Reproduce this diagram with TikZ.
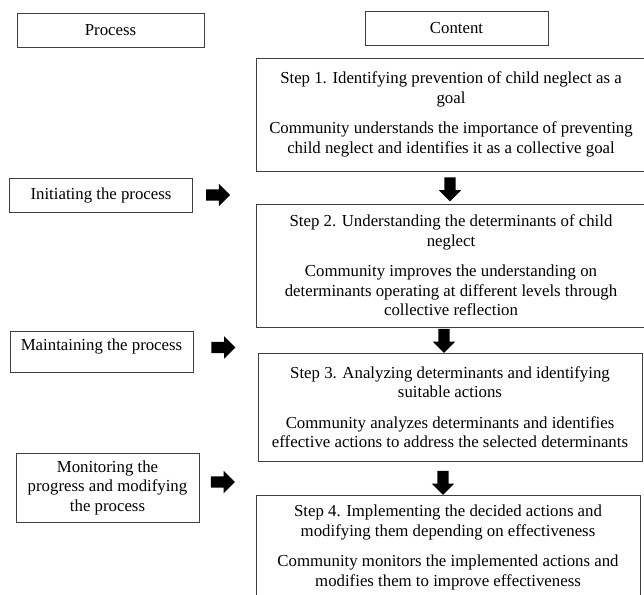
\documentclass[tikz,border=0pt]{standalone}
\usepackage{fontspec}
\setmainfont{Liberation Serif}
\usetikzlibrary{shapes.arrows,positioning}
\tikzstyle{headbox} = [rectangle, minimum height=34pt, inner sep=0pt, text centered, draw=black!75, line width=0.8pt]
\tikzstyle{phasebox} = [rectangle, minimum width=183pt, inner sep=0pt, align=center, draw=black!75, line width=0.8pt]
\tikzstyle{stepbox} = [rectangle, inner sep=0pt, align=center, draw=black!75, line width=0.8pt]
\tikzstyle{rightarrow} = [single arrow, fill=black, draw=none, inner sep=5.5pt, minimum height=24pt, single arrow head extend=5.5pt]
\tikzstyle{downarrow} = [rightarrow, rotate=-90]

\begin{document}
\begin{tikzpicture}[x=1pt,y=-1pt,font=\fontsize{16.8}{19.5}\selectfont]
    \useasboundingbox (0,0) rectangle (644,594);
    % column heads
    \node (Process) [headbox, minimum width=187pt] at (110.5,30) {Process};
    \node (Content) [headbox, minimum width=183pt] at (456.5,28) {Content};

    % steps of the content column
    \node (StepOne) [stepbox, minimum width=390pt, minimum height=113pt] at (451,114.5)
        {Step 1. Identifying prevention of child neglect as a\\ goal\\[11pt]
         Community understands the importance of preventing\\ child neglect and identifies it as a collective goal};
    \node (StepTwo) [stepbox, minimum width=390pt, minimum height=123pt] at (451,265.5)
        {Step 2. Understanding the determinants of child\\ neglect\\[11pt]
         Community improves the understanding on\\ determinants operating at different levels through\\ collective reflection};
    \node (StepThree) [stepbox, minimum width=384pt, minimum height=108pt] at (450,407)
        {Step 3. Analyzing determinants and identifying\\ suitable actions\\[11pt]
         Community analyzes determinants and identifies\\ effective actions to address the selected determinants};
    \node (StepFour) [stepbox, minimum width=384pt, minimum height=105pt] at (448,547.5)
        {Step 4. Implementing the decided actions and\\ modifying them depending on effectiveness\\[11pt]
         Community monitors the implemented actions and\\ modifies them to improve effectiveness};

    % process column
    \node (Initiating) [phasebox, minimum height=34pt] at (101,195) {Initiating the process};
    \node (Maintaining) [phasebox, text height=19pt, text depth=22pt] at (101.5,351.5) {Maintaining the process};
    \node (Monitoring) [phasebox, minimum height=69pt] at (107.5,487.5)
        {Monitoring the\\ progress and modifying\\ the process};

    % block arrows
    \node (ArrowInit) [rightarrow, right=13pt of Initiating] {};
    \node (ArrowMaint) [rightarrow] at (220.5,347.5) {};
    \node (ArrowMon) [rightarrow] at (220,482) {};
    \node (ArrowOne) [downarrow] at (450,186.5) {};
    \node (ArrowTwo) [downarrow] at (444,338) {};
    \node (ArrowThree) [downarrow] at (443,480) {};
\end{tikzpicture}
\end{document}
